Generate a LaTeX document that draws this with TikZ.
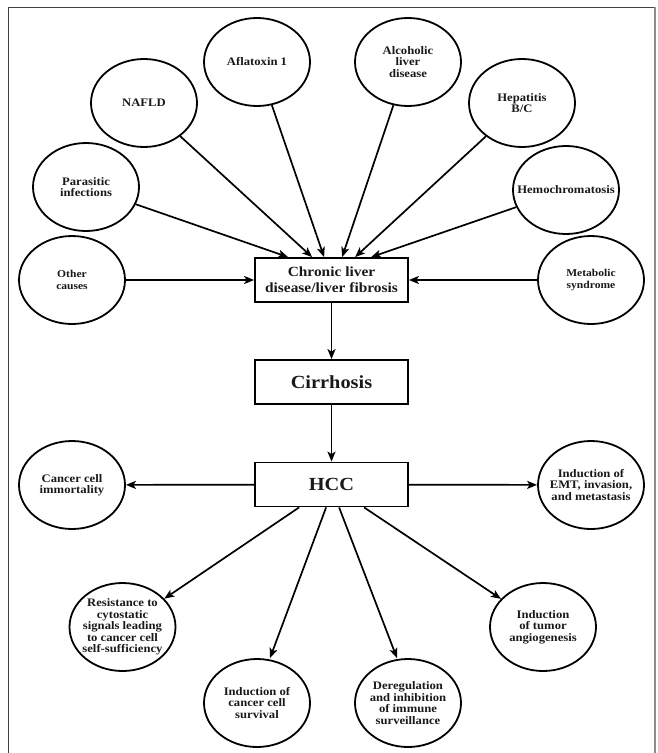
\documentclass[tikz,border=0pt]{standalone}
\usepackage{fontspec}
\setmainfont{Liberation Serif}[FakeStretch=1.1]
\usetikzlibrary{shapes.geometric,arrows.meta,calc}
\begin{document}
\begin{tikzpicture}[x=1pt,y=-1pt,
  circ/.style={draw, line width=1.8pt, ellipse, minimum width=106pt, minimum height=88pt,
    inner xsep=-30pt, inner ysep=-20pt, align=center, text=black!90,
    font=\fontsize{11.5}{11.4}\selectfont\bfseries},
  smallcirc/.style={circ, font=\fontsize{10.5}{11.2}\selectfont\bfseries},
  boxn/.style={draw, line width=1.8pt, rectangle, minimum width=153pt, minimum height=44pt,
    inner sep=0pt, align=center, text=black!90},
  arr/.style={line width=1.7pt, -{Stealth[length=10pt,width=8pt,inset=2.5pt]}}]
\useasboundingbox (0,0) rectangle (657,753);
% frame
\draw[line width=0.9pt, black!75] (8,753) -- (8,7) -- (655,7);
\draw[line width=2pt, black!45] (655,7) -- (655,753);

% boxes
\node[boxn, font=\fontsize{14}{16}\selectfont\bfseries] (chronic) at (331.5,280) {Chronic liver\\disease/liver fibrosis};
\node[boxn, font=\fontsize{18.5}{20}\selectfont\bfseries] (cirr) at (331.5,382) {Cirrhosis};
\node[boxn, font=\fontsize{18.5}{20}\selectfont\bfseries] (hcc) at (331.5,484.5) {HCC};

% causes
\node[circ] (afl) at (257,62) {Aflatoxin 1};
\node[circ] (alc) at (408,62) {Alcoholic\\liver\\disease};
\node[circ] (nafld) at (144,103) {NAFLD};
\node[circ] (hep) at (522,103) {Hepatitis\\B/C};
\node[circ] (par) at (86,187) {Parasitic\\infections};
\node[circ] (hemo) at (566,190) {Hemochromatosis};
\node[smallcirc] (other) at (72,280) {Other\\causes};
\node[smallcirc] (meta) at (591,280) {Metabolic\\syndrome};

% outcomes
\node[circ] (imm) at (72,485) {Cancer cell\\immortality};
\node[circ] (emt) at (591,485) {Induction of\\EMT, invasion,\\and metastasis};
\node[circ] (res) at (122.5,627) {Resistance to\\cytostatic\\signals leading\\to cancer cell\\self-sufficiency};
\node[circ] (ang) at (543,627) {Induction\\of tumor\\angiogenesis};
\node[circ] (surv) at (257,703) {Induction of\\cancer cell\\survival};
\node[circ] (dereg) at (408,703) {Deregulation\\and inhibition\\of immune\\surveillance};

% arrow end points on the chronic box top
\coordinate (t1) at ($(chronic.north west)+(34,0)$);
\coordinate (t2) at ($(chronic.north west)+(58,0)$);
\coordinate (t3) at ($(chronic.north west)+(70,0)$);
\coordinate (t4) at ($(chronic.north west)+(88,0)$);
\coordinate (t5) at ($(chronic.north west)+(101,0)$);
\coordinate (t6) at ($(chronic.north west)+(117,0)$);
\draw[arr] (par) -- (t1);
\draw[arr] (nafld) -- (t2);
\draw[arr] (afl) -- (t3);
\draw[arr] (alc) -- (t4);
\draw[arr] (hep) -- (t5);
\draw[arr] (hemo) -- (t6);
\draw[arr] (other) -- (chronic);
\draw[arr] (meta) -- (chronic);

\draw[arr] (chronic) -- (cirr);
\draw[arr] (cirr) -- (hcc);
\draw[arr] (hcc) -- (imm);
\draw[arr] (hcc) -- (emt);

% arrow start points on the HCC box bottom
\coordinate (s1) at ($(hcc.south west)+(45,0)$);
\coordinate (s2) at ($(hcc.south west)+(72,0)$);
\coordinate (s3) at ($(hcc.south west)+(85,0)$);
\coordinate (s4) at ($(hcc.south west)+(110,0)$);
\draw[arr] (s1) -- (res);
\draw[arr] (s2) -- ([xshift=13pt]surv.north);
\draw[arr] (s3) -- ([xshift=-11pt]dereg.north);
\draw[arr] (s4) -- (ang);
\end{tikzpicture}
\end{document}
